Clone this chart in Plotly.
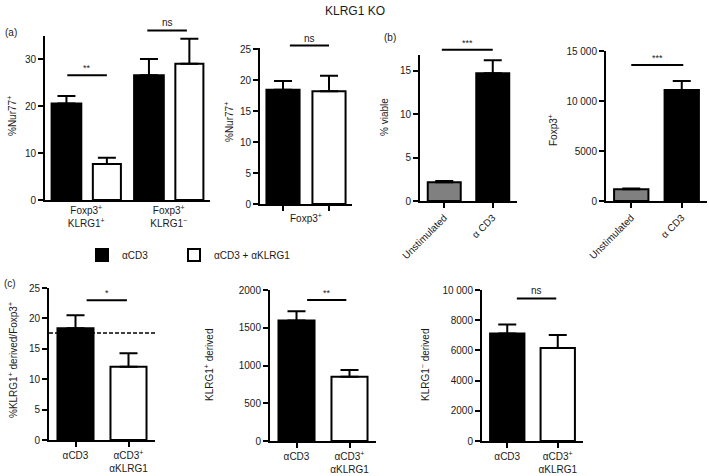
import plotly.graph_objects as go

W, H = 709, 476

# (a) left: %Nur77+ in KLRG1+ / KLRG1- Treg subsets
a1_groups = ["Foxp3<sup>+</sup><br>KLRG1<sup>+</sup>", "Foxp3<sup>+</sup><br>KLRG1<sup>−</sup>"]
a1_cd3 = [20.6, 26.6]
a1_cd3_err = [1.6, 3.5]
a1_klrg1 = [7.7, 29.1]
a1_klrg1_err = [1.3, 5.3]

# (a) right: %Nur77+ in all Foxp3+
a2_groups = ["αCD3", "αCD3 + αKLRG1"]
a2_vals = [18.45, 18.2]
a2_err = [1.4, 2.5]

# (b) viability and Foxp3+ counts
b_groups = ["Unstimulated", "α CD3"]
b1_vals = [2.15, 14.7]
b1_err = [0.15, 1.5]
b2_vals = [1180, 11100]
b2_err = [70, 900]

# (c) KLRG1+ / KLRG1- derived
c_groups = ["αCD3", "αCD3<sup>+</sup><br>αKLRG1"]
c1_vals = [18.4, 12.05]
c1_err = [2.1, 2.2]
c1_baseline = 17.6
c2_vals = [1597, 852]
c2_err = [120, 88]
c3_vals = [7120, 6160]
c3_err = [590, 860]

FONT = "Liberation Sans, Arial, sans-serif"
INK = "#1a1a1a"
GREY = "#808080"


def box(x0, x1, ytop, ybot):
    return [x0 / W, x1 / W], [1 - ybot / H, 1 - ytop / H]


def err(vals):
    return dict(type="data", array=vals, arrayminus=[0] * len(vals), symmetric=False,
                thickness=2, width=9, color="black")


def bar(n, x, y, e, colors, **kw):
    s = "" if n == 1 else str(n)
    return go.Bar(x=x, y=y, error_y=err(e), xaxis="x" + s, yaxis="y" + s,
                  marker=dict(color=colors, line=dict(color="black", width=2)),
                  showlegend=kw.pop("showlegend", False), **kw)


fig = go.Figure()

# (a) left
fig.add_trace(bar(1, a1_groups, a1_cd3, a1_cd3_err, "black", name="αCD3",
                  offset=-0.42, width=0.36, showlegend=True, legend="legend"))
fig.add_trace(bar(1, a1_groups, a1_klrg1, a1_klrg1_err, "white", name="αCD3 + αKLRG1",
                  offset=0.08, width=0.34, showlegend=True, legend="legend2"))
# (a) right
fig.add_trace(bar(2, a2_groups, a2_vals, a2_err, ["black", "white"], width=0.72))
# (b)
fig.add_trace(bar(3, b_groups, b1_vals, b1_err, [GREY, "black"], width=0.68))
fig.add_trace(bar(4, b_groups, b2_vals, b2_err, [GREY, "black"], width=0.68))
# (c)
fig.add_trace(bar(5, c_groups, c1_vals, c1_err, ["black", "white"], width=0.68))
fig.add_trace(bar(6, c_groups, c2_vals, c2_err, ["black", "white"], width=0.68))
fig.add_trace(bar(7, c_groups, c3_vals, c3_err, ["black", "white"], width=0.68))

AX = dict(showline=True, linewidth=2, linecolor="black", ticks="outside", ticklen=5,
          tickwidth=2, tickcolor="black", showgrid=False, zeroline=False, automargin=False,
          tickfont=dict(size=10, color=INK), fixedrange=True)

panels = [
    # n, px box, y max, y ticks, y tick text, x ticks shown, tick angle
    (1, box(45, 210, 36, 200), 35, [0, 10, 20, 30], None, False, 0),
    (2, box(260, 352, 48, 204), 25.2, [0, 5, 10, 15, 20, 25], None, True, 0),
    (3, box(420, 517, 55, 201), 16.8, [0, 5, 10, 15], None, True, -45),
    (4, box(606, 707, 51, 201), 15000, [0, 5000, 10000, 15000],
     ["0", "5000", "10 000", "15 000"], True, -45),
    (5, box(49, 155, 288, 440), 25, [0, 5, 10, 15, 20, 25], None, True, 0),
    (6, box(270, 376, 290, 441), 2000, [0, 500, 1000, 1500, 2000], None, True, 0),
    (7, box(482, 583, 290, 441), 10000, [0, 2000, 4000, 6000, 8000, 10000],
     ["0", "2000", "4000", "6000", "8000", "10 000"], True, 0),
]

for n, (xd, yd), ymax, yt, ytt, xticks, ang in panels:
    s = "" if n == 1 else str(n)
    xa = dict(AX, domain=xd, anchor="y" + s, range=[-0.5, 1.5], type="category",
              ticks="outside" if xticks else "", tickangle=ang)
    if n == 2:
        xa.update(tickvals=a2_groups, ticktext=["", ""])
    ya = dict(AX, domain=yd, anchor="x" + s, range=[0, ymax], tickvals=yt,
              ticktext=ytt if ytt else [str(v) for v in yt])
    fig.layout["xaxis" + s] = xa
    fig.layout["yaxis" + s] = ya

ymax = {p[0]: p[2] for p in panels}

shapes, notes = [], []


def sig(n, x0, x1, level, label):
    s = "" if n == 1 else str(n)
    d0, d1 = (x0 + 0.5) / 2, (x1 + 0.5) / 2
    yy = level / ymax[n]
    shapes.append(dict(type="line", xref="x%s domain" % s, yref="y%s domain" % s,
                       x0=d0, x1=d1, y0=yy, y1=yy, line=dict(color="black", width=2)))
    notes.append(dict(xref="x%s domain" % s, yref="y%s domain" % s, x=(d0 + d1) / 2, y=yy,
                      text=label, showarrow=False, xanchor="center", yanchor="bottom",
                      yshift=0, font=dict(size=10 if label == "ns" else 9, color=INK)))


sig(1, -0.23, 0.25, 26.6, "**")
sig(1, 0.74, 1.22, 36.2, "ns")
sig(2, 0.15, 1.0, 25.6, "ns")
sig(3, -0.05, 1.0, 17.4, "***")
sig(4, 0.0, 1.03, 13600, "***")
sig(5, 0.21, 0.97, 23.0, "*")
sig(6, 0.2, 0.94, 1868, "**")
sig(7, 0.19, 0.97, 9440, "ns")

# reference level in (c) left
shapes.append(dict(type="line", xref="x5 domain", yref="y5", x0=0, x1=1,
                   y0=c1_baseline, y1=c1_baseline,
                   line=dict(color="black", width=1.5, dash="4px,2px")))


def text(x, y, t, size=10, angle=0, xanchor="center"):
    notes.append(dict(xref="paper", yref="paper", x=x / W, y=1 - y / H, text=t, showarrow=False,
                      textangle=angle, xanchor=xanchor, yanchor="middle",
                      font=dict(size=size, color=INK)))


# y-axis titles
text(12, 116, "%Nur77<sup>+</sup>", angle=-90)
text(229, 122, "%Nur77<sup>+</sup>", angle=-90)
text(384, 117, "% viable", angle=-90)
text(553, 130, "Foxp3<sup>+</sup>", angle=-90)
text(13, 360, "%KLRG1<sup>+</sup> derived/Foxp3<sup>+</sup>", angle=-90)
text(209, 365, "KLRG1<sup>+</sup> derived", angle=-90)
text(425, 365, "KLRG1<sup>−</sup> derived", angle=-90)
# group label under (a) right
text(306, 218, "Foxp3<sup>+</sup>")
# panel tags and title
text(3, 33, "(a)", xanchor="left")
text(382, 38, "(b)", xanchor="left")
text(2, 283, "(c)", xanchor="left")
text(355, 11, "KLRG1 KO", size=12)

LEG = dict(orientation="h", xanchor="left", yanchor="middle", y=1 - 255 / H,
           font=dict(size=10, color=INK), bgcolor="rgba(0,0,0,0)")

fig.update_layout(
    width=W, height=H, margin=dict(l=0, r=0, t=0, b=0),
    paper_bgcolor="white", plot_bgcolor="white",
    font=dict(family=FONT, size=10, color=INK),
    barmode="overlay", shapes=shapes, annotations=notes,
    legend=dict(LEG, x=82 / W),
    legend2=dict(LEG, x=174 / W),
)

# the page body has a default 8px margin; drop it so the figure sits at the corner
fig.write_html("out.html", config={"displayModeBar": False},
               post_script="document.body.style.margin = '0';")
